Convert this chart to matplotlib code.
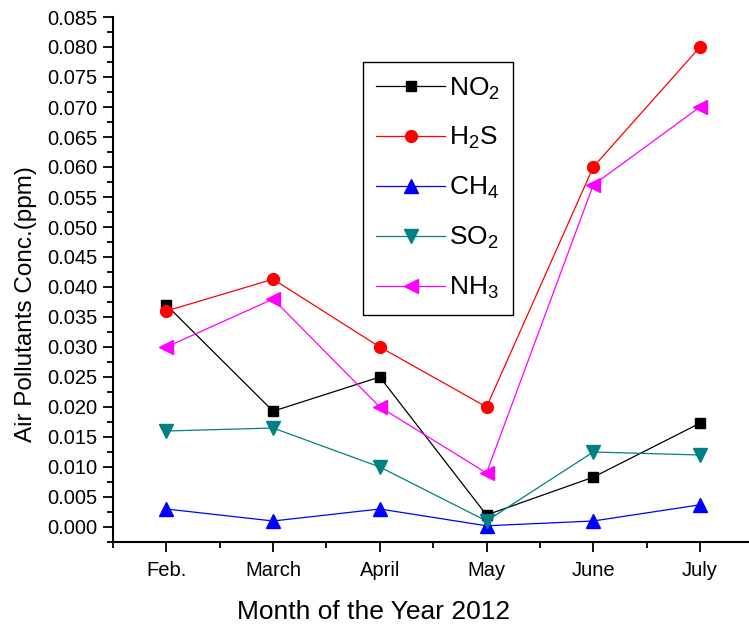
import numpy as np
import matplotlib.pyplot as plt
from matplotlib.ticker import MultipleLocator

plt.rcParams['font.family'] = ['Liberation Sans', 'DejaVu Sans']
plt.rcParams['mathtext.fontset'] = 'custom'
plt.rcParams['mathtext.rm'] = 'Liberation Sans'
plt.rcParams['mathtext.it'] = 'Liberation Sans'

months = ["Feb.", "March", "April", "May", "June", "July"]

# concentrations in ppm
no2 = [0.037, 0.0193, 0.025, 0.002, 0.0083, 0.0173]
h2s = [0.036, 0.0413, 0.030, 0.020, 0.060, 0.080]
ch4 = [0.003, 0.001, 0.003, 0.0002, 0.001, 0.0037]
so2 = [0.016, 0.0165, 0.010, 0.001, 0.0125, 0.012]
nh3 = [0.030, 0.038, 0.020, 0.009, 0.057, 0.070]

x = np.arange(len(months))

fig = plt.figure(figsize=(7.49, 6.26), dpi=100)
ax = fig.add_axes([113/749, 84/626, 635/749, 525/626])

ax.plot(x, no2, color='black', lw=0.9, marker='s', ms=7.5, label=r'NO$_2$')
ax.plot(x, h2s, color='red', lw=0.9, marker='o', ms=8.5, label=r'H$_2$S')
ax.plot(x, ch4, color='blue', lw=0.9, marker='^', ms=9.5, label=r'CH$_4$')
ax.plot(x, so2, color='#008080', lw=0.9, marker='v', ms=9.5, label=r'SO$_2$')
ax.plot(x, nh3, color='magenta', lw=0.9, marker='<', ms=9.5, label=r'NH$_3$')

ax.set_xlim(-0.5, 5.45)
ax.set_ylim(-0.0025, 0.085)
ax.set_xticks(x)
ax.set_xticklabels(months)
ax.xaxis.set_minor_locator(MultipleLocator(0.5))
ax.yaxis.set_major_locator(MultipleLocator(0.005))
ax.yaxis.set_minor_locator(MultipleLocator(0.0025))
ax.yaxis.set_major_formatter(plt.FormatStrFormatter('%.3f'))

ax.spines['top'].set_visible(False)
ax.spines['right'].set_visible(False)
ax.spines['left'].set_linewidth(1.5)
ax.spines['bottom'].set_linewidth(1.5)
ax.tick_params(which='major', direction='out', length=7, width=1.3, labelsize=14.5)
ax.tick_params(axis='y', which='major', pad=4)
ax.tick_params(axis='x', which='major', pad=7)
ax.tick_params(which='minor', direction='out', length=4, width=1.3)

ax.set_xlabel("Month of the Year 2012", fontsize=19)
ax.set_ylabel("Air Pollutants Conc.(ppm)", fontsize=17.5)
ax.xaxis.set_label_coords(0.411, -0.111)
ax.yaxis.set_label_coords(-0.12, 0.453)

leg = ax.legend(loc='upper left', bbox_to_anchor=(0.394, 0.914), borderaxespad=0,
                fontsize=19, frameon=True, fancybox=False, framealpha=1,
                edgecolor='black', handlelength=2.6, labelspacing=0.9,
                borderpad=0.5, handletextpad=0.15)
leg.get_frame().set_linewidth(1.0)

fig.savefig("out.png", dpi=100)
